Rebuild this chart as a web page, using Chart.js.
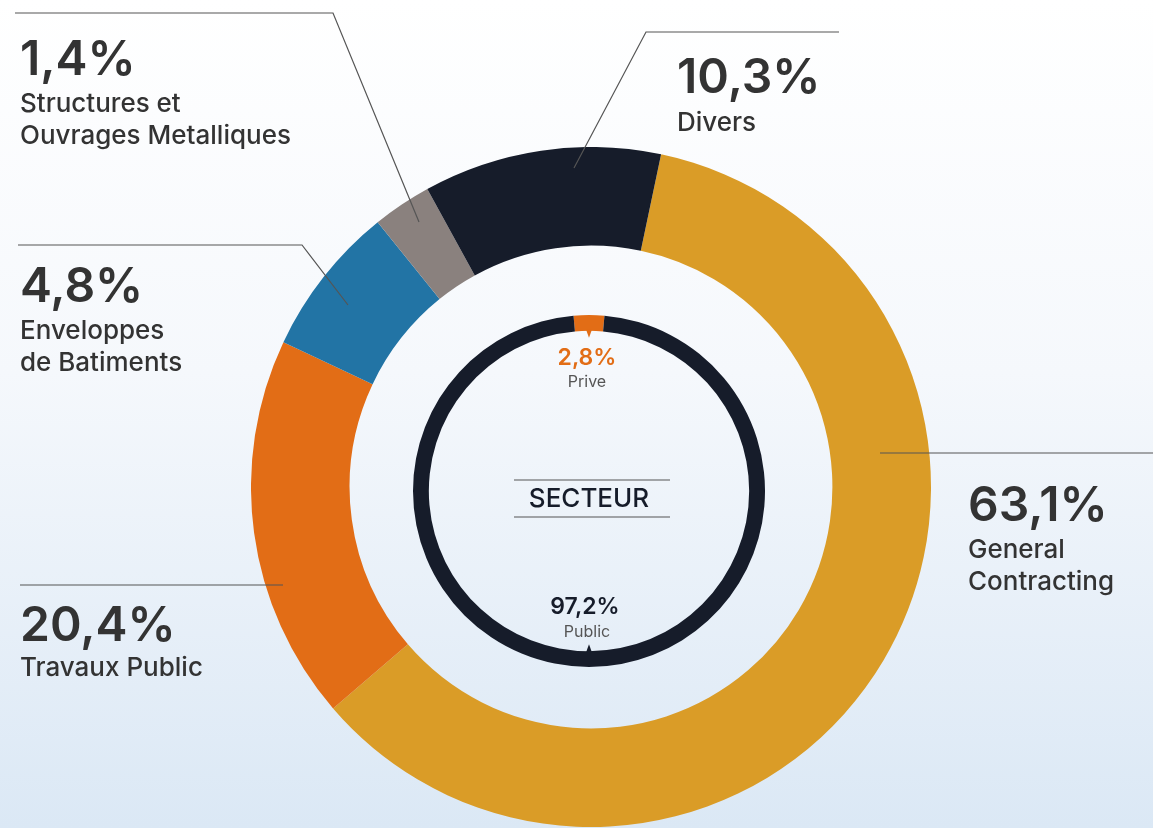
<!DOCTYPE html>
<html lang="fr">
<head>
<meta charset="utf-8">
<script src="https://cdn.jsdelivr.net/npm/chart.js@4.4.1/dist/chart.umd.min.js"></script>
<style>
  html, body { margin: 0; padding: 0; }
  body {
    width: 1153px; height: 828px; overflow: hidden; position: relative;
    background: linear-gradient(to bottom, #ffffff 0%, #f5f8fc 45%, #dbe8f5 100%);
    font-family: Inter, "Noto Sans", sans-serif; color: #333;
  }
  canvas { position: absolute; }
  #lignes { position: absolute; left: 0; top: 0; }
  .bloc { position: absolute; white-space: nowrap; }
  .pct { font-size: 48px; line-height: 48px; font-weight: 600; color: #333; }
  .nom { font-size: 26px; line-height: 32px; font-weight: 500; color: #333; }
  .centre { position: absolute; text-align: center; transform: translateX(-50%); white-space: nowrap; }
</style>
</head>
<body>
<canvas id="outer" width="680" height="680" style="left:251px; top:147px;"></canvas>
<canvas id="inner" width="352" height="352" style="left:413px; top:315px;"></canvas>

<svg id="lignes" width="1153" height="828">
  <g stroke="#555" stroke-width="1.2" fill="none">
    <polyline points="15,13 333,13 419,222" />
    <polyline points="839,32 646,32 574,168" />
    <polyline points="18,245 302,245 348,305" />
    <line x1="20" y1="585" x2="283" y2="585" />
    <line x1="880" y1="453" x2="1153" y2="453" />
    <line x1="514" y1="480" x2="670" y2="480" />
    <line x1="514" y1="517" x2="670" y2="517" />
  </g>
</svg>

<div id="labels"></div>

<div class="centre" style="left:589px; top:485px; font-size:26px; line-height:26px; font-weight:500; color:#161c2a;">SECTEUR</div>
<div class="centre" id="pPrive" style="left:587px; top:346px; font-size:23px; line-height:23px; font-weight:600; color:#e26d16;"></div>
<div class="centre" id="lPrive" style="left:587px; top:373px; font-size:16px; line-height:16px; color:#555;"></div>
<div class="centre" id="pPublic" style="left:585px; top:595px; font-size:23px; line-height:23px; font-weight:600; color:#161c2a;"></div>
<div class="centre" id="lPublic" style="left:587px; top:623px; font-size:16px; line-height:16px; color:#555;"></div>

<script>
// Données
const secteurs = ["General Contracting", "Travaux Public", "Enveloppes de Batiments", "Structures et Ouvrages Metalliques", "Divers"];
const partsTexte = ["63,1%", "20,4%", "4,8%", "1,4%", "10,3%"];
const partsArc = [60.4, 18.3, 7.2, 2.8, 11.3]; // taille des arcs
const types = ["Prive", "Public"];
const typesTexte = ["2,8%", "97,2%"];
const typesParts = [2.8, 97.2];

const couleurs = ["#da9c27", "#e26d16", "#2274a5", "#8a817e", "#161c2a"];
const couleursType = ["#e26d16", "#161c2a"];

// lignes de texte des étiquettes
const nomsLignes = [
  ["General", "Contracting"],
  ["Travaux Public"],
  ["Enveloppes", "de Batiments"],
  ["Structures et", "Ouvrages Metalliques"],
  ["Divers"]
];
// position des blocs (gauche, haut du %, haut du nom)
const blocs = [
  [968, 480, 533],
  [20, 600, 651],
  [20, 261, 314],
  [20, 34, 87],
  [677, 52, 106]
];

const labelsEl = document.getElementById("labels");
secteurs.forEach((s, i) => {
  const [x, yp, yn] = blocs[i];
  labelsEl.innerHTML +=
    `<div class="bloc pct" style="left:${x}px; top:${yp}px;">${partsTexte[i]}</div>` +
    `<div class="bloc nom" style="left:${x}px; top:${yn}px;">${nomsLignes[i].join("<br>")}</div>`;
});

document.getElementById("pPrive").textContent = typesTexte[0];
document.getElementById("lPrive").textContent = types[0];
document.getElementById("pPublic").textContent = typesTexte[1];
document.getElementById("lPublic").textContent = types[1];

const commun = {
  responsive: false,
  animation: false,
  events: [],
  layout: { padding: 0 },
  plugins: { legend: { display: false }, tooltip: { enabled: false } }
};

// anneau extérieur : secteurs
new Chart(document.getElementById("outer"), {
  type: "doughnut",
  data: {
    labels: secteurs,
    datasets: [{ data: partsArc, backgroundColor: couleurs, borderWidth: 0 }]
  },
  options: { ...commun, cutout: "71%", rotation: 11.9 }
});

// petits triangles au milieu de chaque arc, vers le centre
const pointes = {
  id: "pointes",
  afterDatasetsDraw(chart) {
    const ctx = chart.ctx;
    chart.getDatasetMeta(0).data.forEach((arc, i) => {
      const a = (arc.startAngle + arc.endAngle) / 2;
      const r = arc.innerRadius;
      const cx = arc.x, cy = arc.y;
      const px = (rr, da) => [cx + Math.cos(a + da) * rr, cy + Math.sin(a + da) * rr];
      const b1 = px(r + 1, -0.018), b2 = px(r + 1, 0.018), tip = px(r - 7, 0);
      ctx.save();
      ctx.beginPath();
      ctx.moveTo(b1[0], b1[1]); ctx.lineTo(tip[0], tip[1]); ctx.lineTo(b2[0], b2[1]);
      ctx.closePath();
      ctx.fillStyle = couleursType[i];
      ctx.fill();
      ctx.restore();
    });
  }
};

// anneau intérieur : privé / public
new Chart(document.getElementById("inner"), {
  type: "doughnut",
  data: {
    labels: types,
    datasets: [{ data: typesParts, backgroundColor: couleursType, borderWidth: 0 }]
  },
  options: { ...commun, cutout: "91%", rotation: -typesParts[0] * 3.6 / 2 },
  plugins: [pointes]
});
</script>
</body>
</html>
